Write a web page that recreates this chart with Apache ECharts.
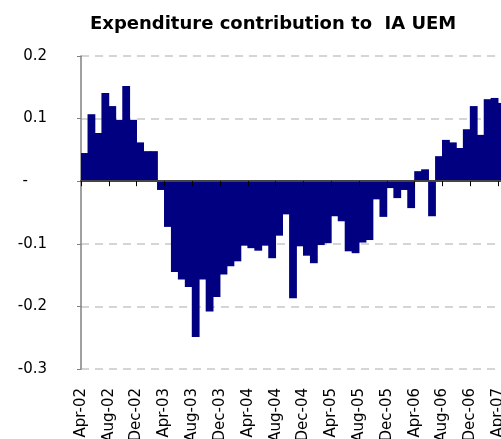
<!DOCTYPE html>
<html>
<head>
<meta charset="utf-8">
<script src="https://cdn.jsdelivr.net/npm/echarts@6/dist/echarts.min.js"></script>
<style>
html,body{margin:0;padding:0;background:#fff;}
#c{width:501px;height:439px;}
</style>
</head>
<body>
<div id="c"></div>
<script>
var titleText = 'Expenditure contribution to  IA UEM';

var months = [
  'Apr-02','May-02','Jun-02','Jul-02','Aug-02','Sep-02','Oct-02','Nov-02','Dec-02',
  'Jan-03','Feb-03','Mar-03','Apr-03','May-03','Jun-03','Jul-03','Aug-03','Sep-03','Oct-03','Nov-03','Dec-03',
  'Jan-04','Feb-04','Mar-04','Apr-04','May-04','Jun-04','Jul-04','Aug-04','Sep-04','Oct-04','Nov-04','Dec-04',
  'Jan-05','Feb-05','Mar-05','Apr-05','May-05','Jun-05','Jul-05','Aug-05','Sep-05','Oct-05','Nov-05','Dec-05',
  'Jan-06','Feb-06','Mar-06','Apr-06','May-06','Jun-06','Jul-06','Aug-06','Sep-06','Oct-06','Nov-06','Dec-06',
  'Jan-07','Feb-07','Mar-07','Apr-07'
];

var values = [
  0.045, 0.107, 0.077, 0.141, 0.120, 0.098, 0.152, 0.098, 0.062,
  0.048, 0.048, -0.014, -0.073, -0.145, -0.157, -0.169, -0.249, -0.157, -0.208, -0.185, -0.149,
  -0.136, -0.128, -0.103, -0.107, -0.111, -0.103, -0.123, -0.087, -0.053, -0.187, -0.104, -0.119,
  -0.131, -0.102, -0.099, -0.056, -0.064, -0.112, -0.115, -0.098, -0.094, -0.029, -0.057, -0.011,
  -0.027, -0.014, -0.043, 0.016, 0.019, -0.056, 0.040, 0.066, 0.062, 0.053, 0.083, 0.120,
  0.074, 0.131, 0.133, 0.125
];

// month-start boundaries used for the label axis (one extra boundary at the end)
var boundaryLabels = months.concat(['May-07']);

var yTicks = { min: -0.3, max: 0.2, step: 0.1 };

var chart = echarts.init(document.getElementById('c'));
var font = 'DejaVu Sans';

chart.setOption({
  animation: false,
  backgroundColor: '#ffffff',
  title: {
    text: titleText,
    left: 85,
    top: 10,
    textStyle: { fontFamily: font, fontSize: 18, fontWeight: 'bold', color: '#000' }
  },
  grid: { left: 81, top: 56, width: 424, height: 313, containLabel: false, outerBoundsMode: 'none' },
  xAxis: [
    {
      type: 'category',
      data: months,
      boundaryGap: true,
      axisLine: { show: true, onZero: true, lineStyle: { color: '#444', width: 2 } },
      axisTick: { show: true, interval: 3, length: 5, lineStyle: { color: '#000', width: 1 } },
      axisLabel: { show: false },
      splitLine: { show: false },
      z: 5
    },
    {
      type: 'category',
      data: boundaryLabels,
      boundaryGap: false,
      position: 'bottom',
      axisLine: { show: false, onZero: false },
      axisTick: { show: false },
      splitLine: { show: false },
      axisLabel: {
        show: true,
        interval: 3,
        rotate: 90,
        margin: 19,
        fontFamily: font,
        fontSize: 15,
        color: '#000'
      }
    }
  ],
  yAxis: {
    type: 'value',
    min: yTicks.min,
    max: yTicks.max,
    interval: yTicks.step,
    axisLine: { show: true, lineStyle: { color: '#808080', width: 1.5 } },
    axisTick: { show: true, length: 4, lineStyle: { color: '#808080' } },
    axisLabel: {
      margin: 34,
      fontFamily: font,
      fontSize: 15,
      color: '#000',
      formatter: function (v) {
        if (Math.abs(v) < 1e-9) return '-\u2007\u2007';
        return v.toFixed(1);
      }
    },
    splitLine: { show: true, lineStyle: { color: '#c8c8c8', type: [8, 6], width: 1.5 } }
  },
  series: [
    {
      type: 'bar',
      xAxisIndex: 0,
      data: values,
      barWidth: 7.8,
      itemStyle: { color: '#000080' }
    }
  ]
});
</script>
</body>
</html>
